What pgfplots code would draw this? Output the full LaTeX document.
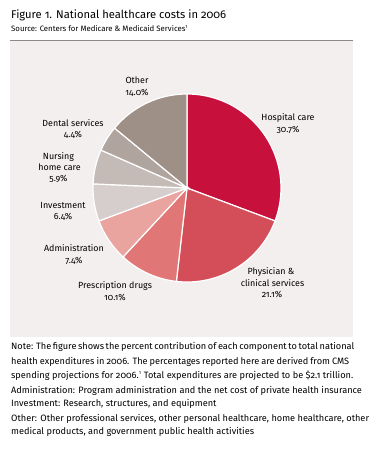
\documentclass[border=0pt]{standalone}
\usepackage{pgfplots}
\pgfplotsset{compat=1.18}
\usepackage{pgfplotstable}
\usepackage{fontspec}
\setmainfont{Fira Sans}[Numbers=OldStyle]
\definecolor{cHos}{HTML}{C8103C}
\definecolor{cPhy}{HTML}{D44E5A}
\definecolor{cPre}{HTML}{E07676}
\definecolor{cAdm}{HTML}{E9A4A0}
\definecolor{cInv}{HTML}{D6CECC}
\definecolor{cNur}{HTML}{C4BAB6}
\definecolor{cDen}{HTML}{B0A49E}
\definecolor{cOth}{HTML}{9E8F87}
\definecolor{panel}{HTML}{F3EFEF}
\definecolor{txt}{HTML}{000000}
\definecolor{rule}{HTML}{8A8A8A}

\pgfdeclareplotmark{wedge}{%
  \pgfpathmoveto{\pgfpointorigin}%
  \pgfpathlineto{\pgfpointpolar{\startang}{94pt}}%
  \pgfpatharc{\startang}{\endang}{94pt}%
  \pgfpathclose
  \pgfusepathqfillstroke
}

% share of each component (percent); cum = cumulative share before it
\pgfplotstableread{
x   y   cum  val  cls
187 188 0.0  30.7 hos
187 188 30.7 21.1 phy
187 188 51.8 10.1 pre
187 188 61.9 7.4  adm
187 188 69.3 6.4  inv
187 188 75.7 5.9  nur
187 188 81.6 4.4  den
187 188 86.0 14.0 oth
}\shares

\newcommand{\T}[4][]{\node[anchor=base,inner sep=0pt,#1] at (axis cs:#2,#3) {#4};}

\begin{document}
\begin{tikzpicture}
\begin{axis}[
  width=372pt, height=463pt, scale only axis,
  xmin=0, xmax=372, ymin=0, ymax=463, y dir=reverse,
  hide axis, clip=false,
]
\addplot[fill=panel, draw=none] coordinates {(10,41) (353,41) (353,337) (10,337)} -- cycle;
\addplot[rule, line width=1pt] coordinates {(10,40.5) (353,40.5)};

\addplot[
  scatter, only marks, mark=wedge,
  point meta=explicit symbolic,
  visualization depends on={90-3.6*\thisrow{cum} \as \startang},
  visualization depends on={90-3.6*(\thisrow{cum}+\thisrow{val}) \as \endang},
  scatter/classes={
    hos={fill=cHos,draw=white,line width=1.2pt},
    phy={fill=cPhy,draw=white,line width=1.2pt},
    pre={fill=cPre,draw=white,line width=1.2pt},
    adm={fill=cAdm,draw=white,line width=1.2pt},
    inv={fill=cInv,draw=white,line width=1.2pt},
    nur={fill=cNur,draw=white,line width=1.2pt},
    den={fill=cDen,draw=white,line width=1.2pt},
    oth={fill=cOth,draw=white,line width=1.2pt}},
] table[x=x, y=y, meta=cls] {\shares};

\begin{scope}[font=\fontsize{8.9}{10}\selectfont, text=txt]
\T{137}{83.7}{Other}
\T{137}{95.2}{14.0\%}
\T{288}{120.7}{Hospital care}
\T{288}{132.5}{30.7\%}
\T{73}{126}{Dental services}
\T{73}{137.8}{4.4\%}
\T{58.5}{159}{Nursing}
\T{59.5}{170.2}{home care}
\T{58.5}{181.7}{5.9\%}
\T{63}{208}{Investment}
\T{63}{219.7}{6.4\%}
\T{74}{251.3}{Administration}
\T{74}{263}{7.4\%}
\T{115}{288.7}{Prescription drugs}
\T{115}{300.3}{10.1\%}
\T{271}{274.7}{Physician \&}
\T{272.5}{286.2}{clinical services}
\T{272}{297.7}{21.1\%}
\end{scope}

\begin{scope}[text=txt]
\T[anchor=base west]{11}{18.5}{\fontsize{11.2}{12}\selectfont Figure 1. National healthcare costs in 2006}
\T[anchor=base west]{11}{31.3}{\fontsize{7.8}{9}\selectfont Source: Centers for Medicare \& Medicaid Services\textsuperscript{\tiny 1}}
\end{scope}

\begin{scope}[font=\fontsize{9.2}{10}\selectfont, text=txt]
\T[anchor=base west]{11}{349.5}{\makebox[338pt][s]{Note: The figure shows the percent contribution of each component to total national}}
\T[anchor=base west]{11}{364.2}{\makebox[338pt][s]{health expenditures in 2006. The percentages reported here are derived from CMS}}
\T[anchor=base west]{11}{378.2}{spending projections for 2006.\textsuperscript{\tiny 1} Total expenditures are projected to be \$2.1 trillion.}
\T[anchor=base west]{11}{393.5}{Administration: Program administration and the net cost of private health insurance}
\T[anchor=base west]{11}{406.5}{Investment: Research, structures, and equipment}
\T[anchor=base west]{11}{421.5}{Other: Other professional services, other personal healthcare, home healthcare, other}
\T[anchor=base west]{11}{434.5}{medical products, and government public health activities}
\end{scope}
\path[use as bounding box] (rel axis cs:0,0) rectangle (rel axis cs:1,1);
\end{axis}
\end{tikzpicture}
\end{document}
